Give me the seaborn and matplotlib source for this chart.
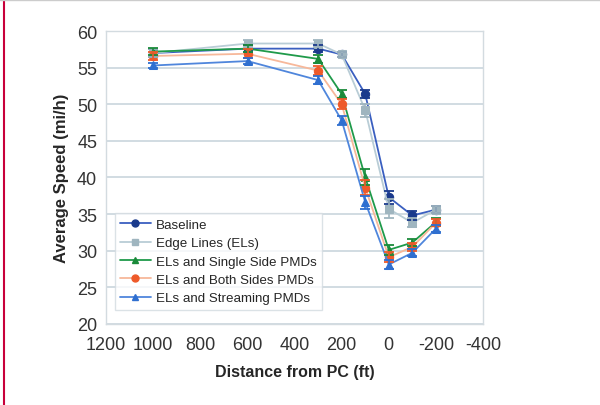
import numpy as np
import pandas as pd
import matplotlib
matplotlib.use("Agg")
import matplotlib.pyplot as plt
import seaborn as sns
from matplotlib.lines import Line2D

# distance from point of curvature (ft)
distance = [1000, 600, 300, 200, 100, 0, -100, -200]

treatments = ['Baseline', 'Edge Lines (ELs)', 'ELs and Single Side PMDs',
              'ELs and Both Sides PMDs', 'ELs and Streaming PMDs']

baseline = [57.0, 57.6, 57.6, 56.8, 51.4, 37.3, 34.8, 35.6]
edge_lines = [57.0, 58.3, 58.3, 56.8, 49.2, 35.7, 33.8, 35.6]
single_side = [57.2, 57.6, 56.2, 51.4, 40.0, 30.1, 31.1, 33.9]
both_sides = [56.6, 56.9, 54.6, 50.0, 38.6, 29.1, 30.5, 33.8]
streaming = [55.3, 55.9, 53.3, 47.8, 36.6, 28.1, 29.7, 33.0]

baseline_err = [0.5, 0.5, 0.5, 0.4, 0.6, 0.9, 0.6, 0.5]
edge_err = [0.5, 0.5, 0.5, 0.4, 0.9, 1.3, 0.6, 0.5]
single_err = [0.5, 0.5, 0.5, 0.6, 1.1, 0.7, 0.5, 0.5]
both_err = [0.6, 0.6, 0.6, 0.7, 1.0, 0.7, 0.5, 0.5]
stream_err = [0.4, 0.4, 0.5, 0.6, 0.9, 0.6, 0.5, 0.5]

speeds = [baseline, edge_lines, single_side, both_sides, streaming]
errors = [baseline_err, edge_err, single_err, both_err, stream_err]

line_colors = ['#3a5fc0', '#b9cdd6', '#1f9a4a', '#f7b89a', '#4f86dc']
marker_colors = ['#1a3a8c', '#9fb5bf', '#1a8a3a', '#ee5a2a', '#2f6fd0']
markers = ['o', 's', '^', 'o', '^']

df = pd.DataFrame({
    'Distance': np.tile(distance, len(treatments)),
    'Speed': np.concatenate(speeds),
    'Treatment': np.repeat(treatments, len(distance)),
})

sns.set_style("white")
plt.rcParams['font.family'] = ['Liberation Sans', 'DejaVu Sans']
plt.rcParams['axes.unicode_minus'] = False

fig, ax = plt.subplots(figsize=(6, 4.06), dpi=100)
fig.subplots_adjust(left=0.177, right=0.805, bottom=0.2, top=0.921)

sns.lineplot(data=df, x='Distance', y='Speed', hue='Treatment', style='Treatment',
             palette=dict(zip(treatments, line_colors)),
             markers=dict(zip(treatments, markers)), dashes=False,
             markersize=6, linewidth=1.3, sort=False, ax=ax, legend=False)

for s, e, mc in zip(speeds, errors, marker_colors):
    ax.errorbar(distance, s, yerr=e, fmt='none', ecolor=mc, elinewidth=1.2,
                capsize=3.5, capthick=1.3, zorder=3)

# darker marker fill than the connecting lines
for line, mc in zip(ax.lines[:len(treatments)], marker_colors):
    line.set_markerfacecolor(mc)
    line.set_markeredgecolor(mc)

ax.set_xlim(1200, -400)
ax.set_ylim(20, 60)
ax.set_xticks(np.arange(1200, -401, -200))
ax.set_yticks(np.arange(20, 61, 5))
ax.yaxis.grid(True, color='#c9d5dd', linewidth=1.2)
ax.xaxis.grid(False)
for sp in ax.spines.values():
    sp.set_color('#d3dbe0')
    sp.set_linewidth(1.0)
ax.tick_params(axis='both', labelsize=13, colors='#333333', length=3)
ax.tick_params(axis='x', pad=6)
ax.set_xlabel('Distance from PC (ft)', fontsize=11.5, fontweight='bold', labelpad=8)
ax.set_ylabel('Average Speed (mi/h)', fontsize=12, fontweight='bold', labelpad=6)

handles = [Line2D([0], [0], color=lc, marker=m, markerfacecolor=mc,
                  markeredgecolor=mc, markersize=5, linewidth=1.3)
           for lc, mc, m in zip(line_colors, marker_colors, markers)]
leg = ax.legend(handles, treatments, loc='lower left', bbox_to_anchor=(0.005, 0.025),
                fontsize=9.6, frameon=True, fancybox=False, borderpad=0.4,
                labelspacing=0.45, handlelength=2.3, handletextpad=0.4)
leg.get_frame().set_edgecolor('#d3dbe0')
leg.get_frame().set_linewidth(1.0)

fig.add_artist(Line2D([0.006, 0.006], [0, 1], color='#c8003a', linewidth=1.5))
fig.add_artist(Line2D([0, 1], [0.998, 0.998], color='#cccccc', linewidth=1.0))

fig.savefig('out.png', dpi=100)
